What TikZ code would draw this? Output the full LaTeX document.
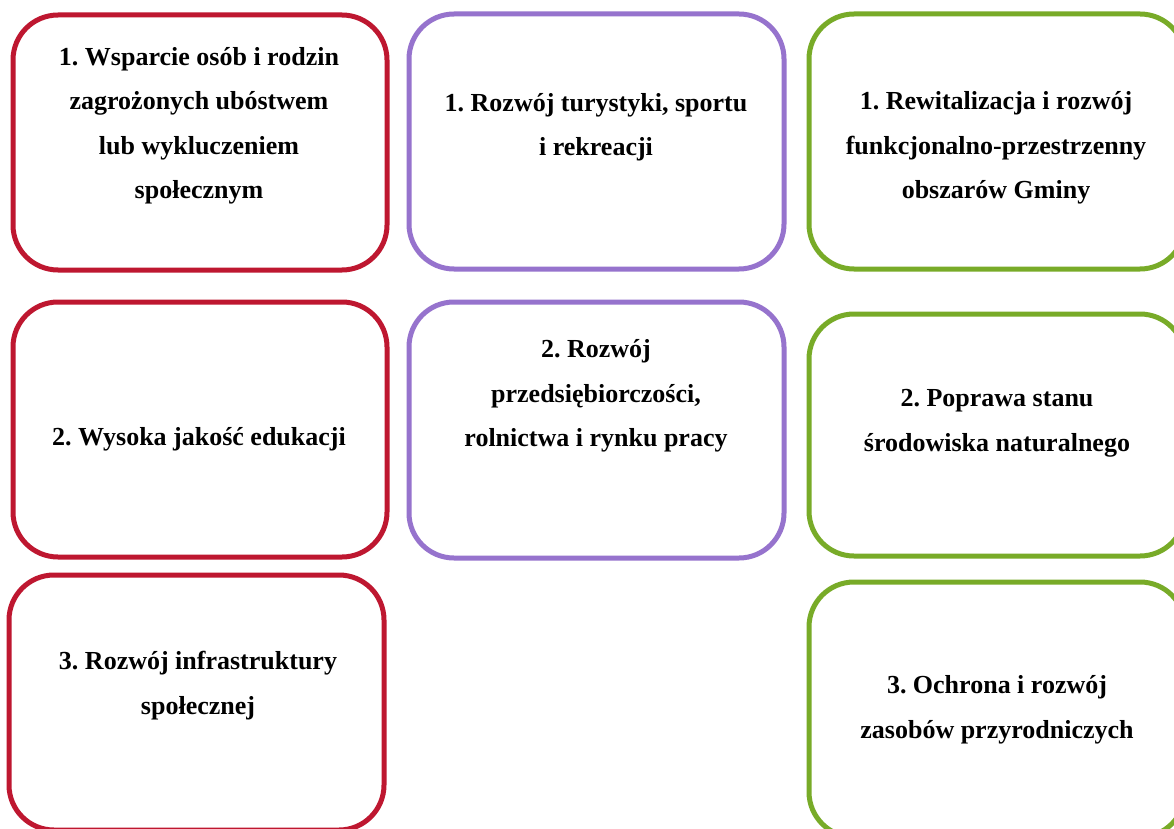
\documentclass[tikz,border=0pt]{standalone}
\usepackage{fontspec}
\setmainfont{Liberation Serif}
\frenchspacing
\definecolor{cred}{HTML}{BE1730}
\definecolor{cpurple}{HTML}{9673CD}
\definecolor{cgreen}{HTML}{78AB28}
\tikzset{
  goalbox/.style={draw, line width=5pt, rounded corners=45pt, fill=white},
  goaltext/.style={align=center, font=\fontsize{26}{44.5}\selectfont\bfseries\frenchspacing, text=black, inner sep=0pt}
}
\begin{document}
\begin{tikzpicture}[x=1pt,y=-1pt]
\useasboundingbox (0,0) rectangle (1174,829);
\clip (0,0) rectangle (1174,829);
\fill[white] (0,0) rectangle (1174,829);
% red column
\node[goalbox, draw=cred, minimum width=374pt, minimum height=255pt] (r1) at (200,142.5) {};
\node[goalbox, draw=cred, minimum width=374pt, minimum height=255pt] (r2) at (200,429.5) {};
\node[goalbox, draw=cred, minimum width=375pt, minimum height=255pt] (r3) at (196.5,702.5) {};
% purple column
\node[goalbox, draw=cpurple, minimum width=375pt, minimum height=255pt] (p1) at (596.5,141.5) {};
\node[goalbox, draw=cpurple, minimum width=375pt, minimum height=256pt] (p2) at (596.5,430) {};
% green column
\node[goalbox, draw=cgreen, minimum width=376pt, minimum height=255pt] (g1) at (997,141.5) {};
\node[goalbox, draw=cgreen, minimum width=376pt, minimum height=242pt] (g2) at (997,435) {};
\node[goalbox, draw=cgreen, minimum width=376pt, minimum height=255pt] (g3) at (997,709.5) {};
% texts
\node[goaltext] (tr1) at (199,126) {1. Wsparcie osób i rodzin\\zagrożonych ubóstwem\\lub wykluczeniem\\społecznym};
\node[goaltext] (tr2) at (199,439) {2. Wysoka jakość edukacji};
\node[goaltext] (tr3) at (198,685.5) {3. Rozwój infrastruktury\\społecznej};
\node[goaltext] (tp1) at (596,127) {1. Rozwój turystyki, sportu\\i rekreacji};
\node[goaltext] (tp2) at (596,396) {2. Rozwój\\przedsiębiorczości,\\rolnictwa i rynku pracy};
\node[goaltext] (tg1) at (996,148) {1. Rewitalizacja i rozwój\\funkcjonalno-przestrzenny\\obszarów Gminy};
\node[goaltext] (tg2) at (997,423.5) {2. Poprawa stanu\\środowiska naturalnego};
\node[goaltext] (tg3) at (997,710) {3. Ochrona i rozwój\\zasobów przyrodniczych};
\end{tikzpicture}
\end{document}
